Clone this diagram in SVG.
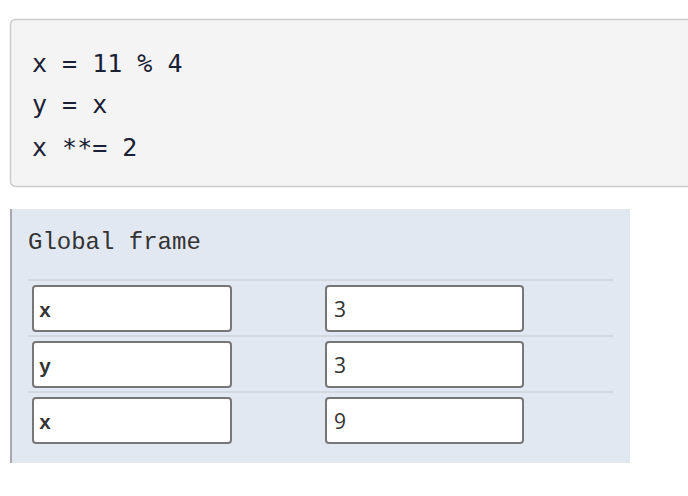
<svg xmlns="http://www.w3.org/2000/svg" width="688" height="496" viewBox="0 0 688 496">
<style>
.code{font-family:"DejaVu Sans Mono","Liberation Mono",monospace;font-size:25px;fill:#1b2135}
.name{font-family:"Liberation Mono","Courier New",monospace;font-size:20px;font-weight:bold;fill:#333}
.val{font-family:"Open Sans","Noto Sans",sans-serif;font-size:21px;fill:#333}
.box{fill:#fff;stroke:#777;stroke-width:2}
.sep{stroke:#d3d8df;stroke-width:2}
</style>
<rect width="688" height="496" fill="#fff"/>
<g id="code">
<rect x="10.5" y="19.5" width="690" height="167" rx="5" fill="#f4f4f4" stroke="#cccccc" stroke-width="1.5"/>
<text class="code" x="32" y="72">x = 11 % 4</text>
<text class="code" x="32" y="113">y = x</text>
<text class="code" x="32" y="156">x **= 2</text>
</g>
<g id="frame">
<rect x="10" y="209" width="620" height="254" fill="#e2e8f2"/>
<line x1="11" y1="209" x2="11" y2="463" stroke="#a9a9a9" stroke-width="2"/>
<text x="28" y="249" font-family="Liberation Mono, Courier New, monospace" font-size="24" fill="#333">Global frame</text>
<line class="sep" x1="28" y1="280" x2="613" y2="280"/>
<line class="sep" x1="28" y1="336" x2="613" y2="336"/>
<line class="sep" x1="28" y1="392" x2="613" y2="392"/>
</g>
<g id="row1">
<rect class="box" x="33" y="286" width="198" height="45" rx="3"/>
<text class="name" x="39" y="317">x</text>
<rect class="box" x="326" y="286" width="197" height="45" rx="3"/>
<text class="val" x="334" y="317">3</text>
</g>
<g id="row2">
<rect class="box" x="33" y="342" width="198" height="45" rx="3"/>
<text class="name" x="39" y="373">y</text>
<rect class="box" x="326" y="342" width="197" height="45" rx="3"/>
<text class="val" x="334" y="373">3</text>
</g>
<g id="row3">
<rect class="box" x="33" y="398" width="198" height="45" rx="3"/>
<text class="name" x="39" y="429">x</text>
<rect class="box" x="326" y="398" width="197" height="45" rx="3"/>
<text class="val" x="334" y="429">9</text>
</g>
</svg>
